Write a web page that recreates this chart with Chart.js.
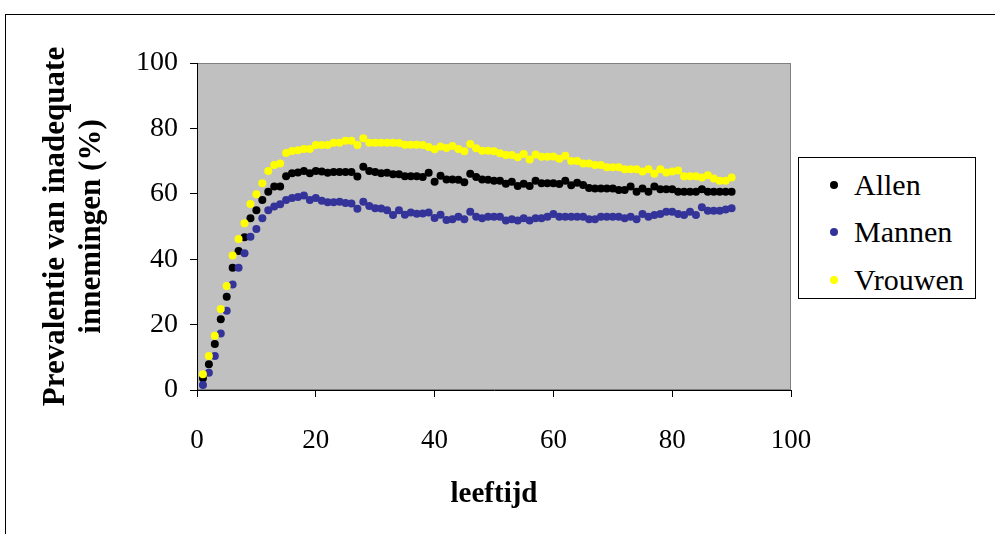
<!DOCTYPE html>
<html>
<head>
<meta charset="utf-8">
<script src="https://cdn.jsdelivr.net/npm/chart.js@4/dist/chart.umd.min.js"></script>
<style>
  html, body { margin: 0; padding: 0; background: #fff; overflow: hidden; }
  #wrap { position: relative; width: 995px; height: 534px; overflow: hidden; }
  #frame { position: absolute; left: 5px; top: 14px; width: 1200px; height: 800px; border: 1px solid #000; }
  #chart { position: absolute; left: 0; top: 0; }
  #legend { position: absolute; left: 798px; top: 157px; width: 176px; height: 140px;
    border: 1px solid #000; background: #fff; font-family: "Liberation Serif", "Times New Roman", serif; font-size: 30px; }
  .item { position: absolute; left: 0; height: 34px; line-height: 34px; }
  .dot { position: absolute; left: 31px; top: 13px; width: 8px; height: 8px; border-radius: 50%; }
  .lbl { position: absolute; left: 55px; top: 0; white-space: nowrap; }
</style>
</head>
<body>
<div id="wrap">
  <div id="frame"></div>
  <canvas id="chart" width="995" height="534"></canvas>
  <div id="legend"></div>
</div>
<script>
var seriesNames = ['Allen', 'Mannen', 'Vrouwen'];
var seriesColors = ['#000000', '#333399', '#FFFF00'];

// leeftijd 1..90
var ages = [];
for (var a = 1; a <= 90; a++) ages.push(a);

var allen = [
  3.6, 7.9, 14.1, 21.6, 28.5, 37.4, 42.5, 46.7, 52.5, 55.0,
  58.1, 60.6, 62.2, 62.2, 65.4, 66.3, 66.5, 67.0, 66.3, 67.0,
  66.8, 66.4, 66.7, 66.7, 66.7, 66.7, 65.3, 68.3, 67.0, 66.7,
  66.3, 66.4, 66.0, 66.0, 65.4, 65.4, 65.4, 65.1, 66.4, 63.7,
  65.5, 64.4, 64.4, 64.3, 63.5, 66.1, 65.1, 64.4, 64.3, 64.0,
  64.0, 63.1, 63.7, 62.4, 63.1, 62.4, 64.0, 63.2, 63.2, 63.2,
  63.0, 64.0, 62.6, 63.4, 62.7, 61.8, 61.6, 61.6, 61.6, 61.6,
  61.2, 61.2, 62.2, 60.6, 61.6, 60.6, 62.2, 61.4, 61.4, 61.4,
  60.6, 60.6, 60.6, 60.6, 61.4, 60.6, 60.6, 60.6, 60.6, 60.6
];
var mannen = [
  1.5, 5.3, 10.4, 17.3, 24.2, 32.3, 37.4, 41.8, 46.9, 49.2,
  52.5, 55.0, 56.1, 56.8, 58.1, 58.7, 59.0, 59.5, 58.1, 58.7,
  57.9, 57.4, 57.4, 57.6, 57.2, 57.0, 55.4, 57.6, 56.3, 55.6,
  55.5, 55.0, 53.5, 55.0, 53.6, 54.3, 53.9, 54.0, 54.3, 52.6,
  53.6, 52.0, 52.2, 53.0, 52.2, 54.5, 53.0, 52.5, 53.0, 53.0,
  53.0, 51.8, 52.2, 51.8, 52.5, 51.8, 52.5, 52.5, 53.0, 53.8,
  53.0, 53.0, 53.0, 53.0, 53.0, 52.2, 52.2, 53.0, 53.0, 53.0,
  53.0, 52.5, 53.0, 52.2, 53.8, 53.0, 53.5, 53.8, 54.5, 54.5,
  53.8, 53.5, 54.5, 53.5, 55.9, 54.8, 54.8, 54.8, 55.2, 55.6
];
var vrouwen = [
  4.8, 10.4, 16.6, 24.8, 31.8, 41.1, 46.2, 51.0, 56.9, 59.9,
  63.2, 67.0, 68.8, 69.3, 72.5, 73.1, 73.3, 73.7, 73.7, 74.9,
  74.9, 74.9, 75.6, 75.6, 76.2, 76.2, 74.9, 77.0, 75.6, 75.6,
  75.6, 75.6, 75.6, 75.5, 75.0, 75.0, 75.0, 74.9, 74.3, 73.6,
  74.5, 74.0, 74.6, 73.7, 73.0, 75.2, 73.9, 73.2, 73.2, 73.0,
  72.4, 71.9, 71.9, 71.2, 72.2, 70.5, 72.0, 71.3, 71.3, 71.4,
  70.7, 71.6, 70.0, 70.0, 69.3, 69.3, 68.8, 68.8, 68.1, 68.1,
  68.1, 67.5, 67.5, 67.5, 66.8, 67.5, 66.1, 67.5, 66.5, 66.8,
  67.1, 65.4, 65.4, 65.4, 65.0, 65.7, 64.7, 64.0, 64.0, 65.0
];
var xTicks = [0, 20, 40, 60, 80, 100];
var yTicks = [0, 20, 40, 60, 80, 100];

function toPoints(vals) {
  return vals.map(function (v, i) { return { x: ages[i], y: v }; });
}

var serif = '"Liberation Serif", "Times New Roman", serif';

var plotBg = {
  id: 'plotBg',
  beforeDraw: function (chart) {
    var c = chart.ctx, a = chart.chartArea;
    c.save();
    c.fillStyle = '#C0C0C0';
    c.fillRect(a.left, a.top, a.right - a.left, a.bottom - a.top);
    c.strokeStyle = '#808080';
    c.lineWidth = 1;
    c.strokeRect(a.left + 0.5, a.top + 0.5, a.right - a.left - 1, a.bottom - a.top - 1);
    c.restore();
  }
};

new Chart(document.getElementById('chart'), {
  type: 'scatter',
  data: {
    datasets: [
      { label: seriesNames[0], data: toPoints(allen), backgroundColor: seriesColors[0], order: 3 },
      { label: seriesNames[1], data: toPoints(mannen), backgroundColor: seriesColors[1], order: 2 },
      { label: seriesNames[2], data: toPoints(vrouwen), backgroundColor: seriesColors[2], order: 1 }
    ]
  },
  options: {
    responsive: false,
    animation: false,
    devicePixelRatio: 1,
    layout: { padding: { left: 0, top: 63, right: 204, bottom: 0 } },
    elements: { point: { radius: 4, borderWidth: 0, hoverRadius: 4 } },
    plugins: { legend: { display: false }, tooltip: { enabled: false } },
    scales: {
      x: {
        type: 'linear', min: 0, max: 100,
        afterFit: function (s) { s.height = 144; },
        afterBuildTicks: function (s) { s.ticks = xTicks.map(function (v) { return { value: v }; }); },
        grid: { drawOnChartArea: false, drawTicks: true, tickLength: 7, color: '#000' },
        border: { display: true, color: '#000', width: 1 },
        ticks: { color: '#000', padding: 28, maxRotation: 0, font: { family: serif, size: 27 } },
        title: { display: true, text: 'leeftijd', color: '#000', padding: { top: 0, bottom: 22 },
          font: { family: serif, size: 29, weight: 'bold' } }
      },
      y: {
        type: 'linear', min: 0, max: 100,
        afterFit: function (s) { s.width = 197; },
        afterBuildTicks: function (s) { s.ticks = yTicks.map(function (v) { return { value: v }; }); },
        grid: { drawOnChartArea: false, drawTicks: true, tickLength: 7, color: '#000' },
        border: { display: true, color: '#000', width: 1 },
        ticks: { color: '#000', padding: 12, font: { family: serif, size: 28 } },
        title: { display: true, text: ['Prevalentie van inadequate', 'innemingen (%)'], color: '#000',
          padding: { top: 38, bottom: 0 }, font: { family: serif, size: 31, weight: 'bold', lineHeight: 1.17 } }
      }
    }
  },
  plugins: [plotBg]
});

// legend box
var leg = document.getElementById('legend');
var rowTops = [10, 57, 105];
seriesNames.forEach(function (name, i) {
  var it = document.createElement('div');
  it.className = 'item';
  it.style.top = rowTops[i] + 'px';
  it.innerHTML = '<span class="dot" style="background:' + seriesColors[i] + '"></span><span class="lbl">' + name + '</span>';
  leg.appendChild(it);
});
</script>
</body>
</html>
